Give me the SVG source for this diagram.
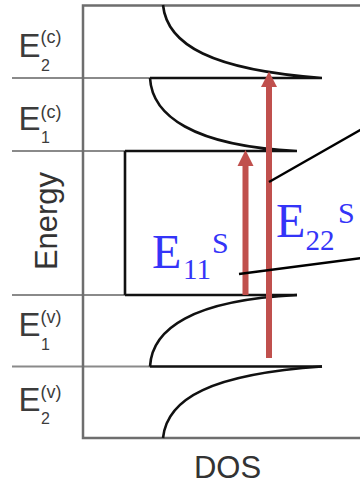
<svg xmlns="http://www.w3.org/2000/svg" width="360" height="483" viewBox="0 0 360 483">
<style>
.frame{stroke:#6e6e6e;stroke-width:2.5;fill:none}
.sep{stroke:#8a8a8a;stroke-width:2;fill:none}
.band{stroke:#111;stroke-width:2.6;fill:none}
.lbl{font-family:"Liberation Sans",Arial,sans-serif;fill:#3c3c3c}
.big{font-size:33px}
.sm{font-size:16px}
.sup{font-size:18px}
.ax{font-family:"Liberation Sans",Arial,sans-serif;font-size:31px;fill:#333}
.blue{font-family:"Liberation Serif","Times New Roman",serif;fill:#3434f8}
.red{fill:#c0504d}
.ptr{stroke:#000;stroke-width:2.4}
</style>
<g id="separators">
<line class="sep" x1="12" y1="78" x2="150" y2="78"/>
<line class="sep" x1="12" y1="151" x2="125" y2="151"/>
<line class="sep" x1="12" y1="295" x2="125" y2="295"/>
<line class="sep" x1="12" y1="366.5" x2="150" y2="366.5"/>
</g>
<g id="frame">
<polyline class="frame" points="360,5.5 83,5.5 83,438 360,438"/>
</g>
<g id="bands">
<path class="band" d="M163,5 C167,45 212,70 322,78 M150,78 L322,78"/>
<path class="band" d="M150,78 C152,115 192,146 297,151 M125,151 L297,151 M125,151 L125,295 M125,295 L297,295"/>
<path class="band" d="M150,366.5 C152,329 192,300 297,295 M150,366.5 L322,366.5"/>
<path class="band" d="M163,438 C167,398 212,374 322,366.5"/>
</g>
<g id="labels">
<text class="lbl big" x="18.5" y="56.7">E</text><text class="lbl sm" x="41" y="70.5">2</text><text class="lbl sup" x="40.5" y="43">(c)</text>
<text class="lbl big" x="18.5" y="130">E</text><text class="lbl sm" x="41" y="143">1</text><text class="lbl sup" x="40.5" y="117.5">(c)</text>
<text class="lbl big" x="18.5" y="336">E</text><text class="lbl sm" x="41" y="349.5">1</text><text class="lbl sup" x="40.5" y="322.5">(v)</text>
<text class="lbl big" x="18.5" y="410.7">E</text><text class="lbl sm" x="41" y="423.5">2</text><text class="lbl sup" x="40.5" y="397.5">(v)</text>
<text class="ax" transform="translate(57,221) rotate(-90)" text-anchor="middle">Energy</text>
<text class="ax" x="227.5" y="477.5" text-anchor="middle">DOS</text>
</g>
<g id="arrows">
<rect class="red" x="242.5" y="164" width="6" height="131"/>
<polygon class="red" points="245.5,150 253.5,166 237.5,166"/>
<rect class="red" x="266" y="85" width="6" height="273"/>
<polygon class="red" points="269,71.5 277,87 261,87"/>
</g>
<g id="pointers">
<line class="ptr" x1="269" y1="182" x2="362" y2="129"/>
<line class="ptr" x1="239" y1="274" x2="362" y2="258"/>
</g>
<g id="transition-labels">
<text class="blue" x="152" y="268" font-size="48">E</text><text class="blue" x="183" y="279.3" font-size="29">11</text><text class="blue" x="212" y="253.3" font-size="30">S</text>
<text class="blue" x="276" y="236.7" font-size="48">E</text><text class="blue" x="305.5" y="250" font-size="29">22</text><text class="blue" x="338" y="223.3" font-size="30">S</text>
</g>
</svg>
